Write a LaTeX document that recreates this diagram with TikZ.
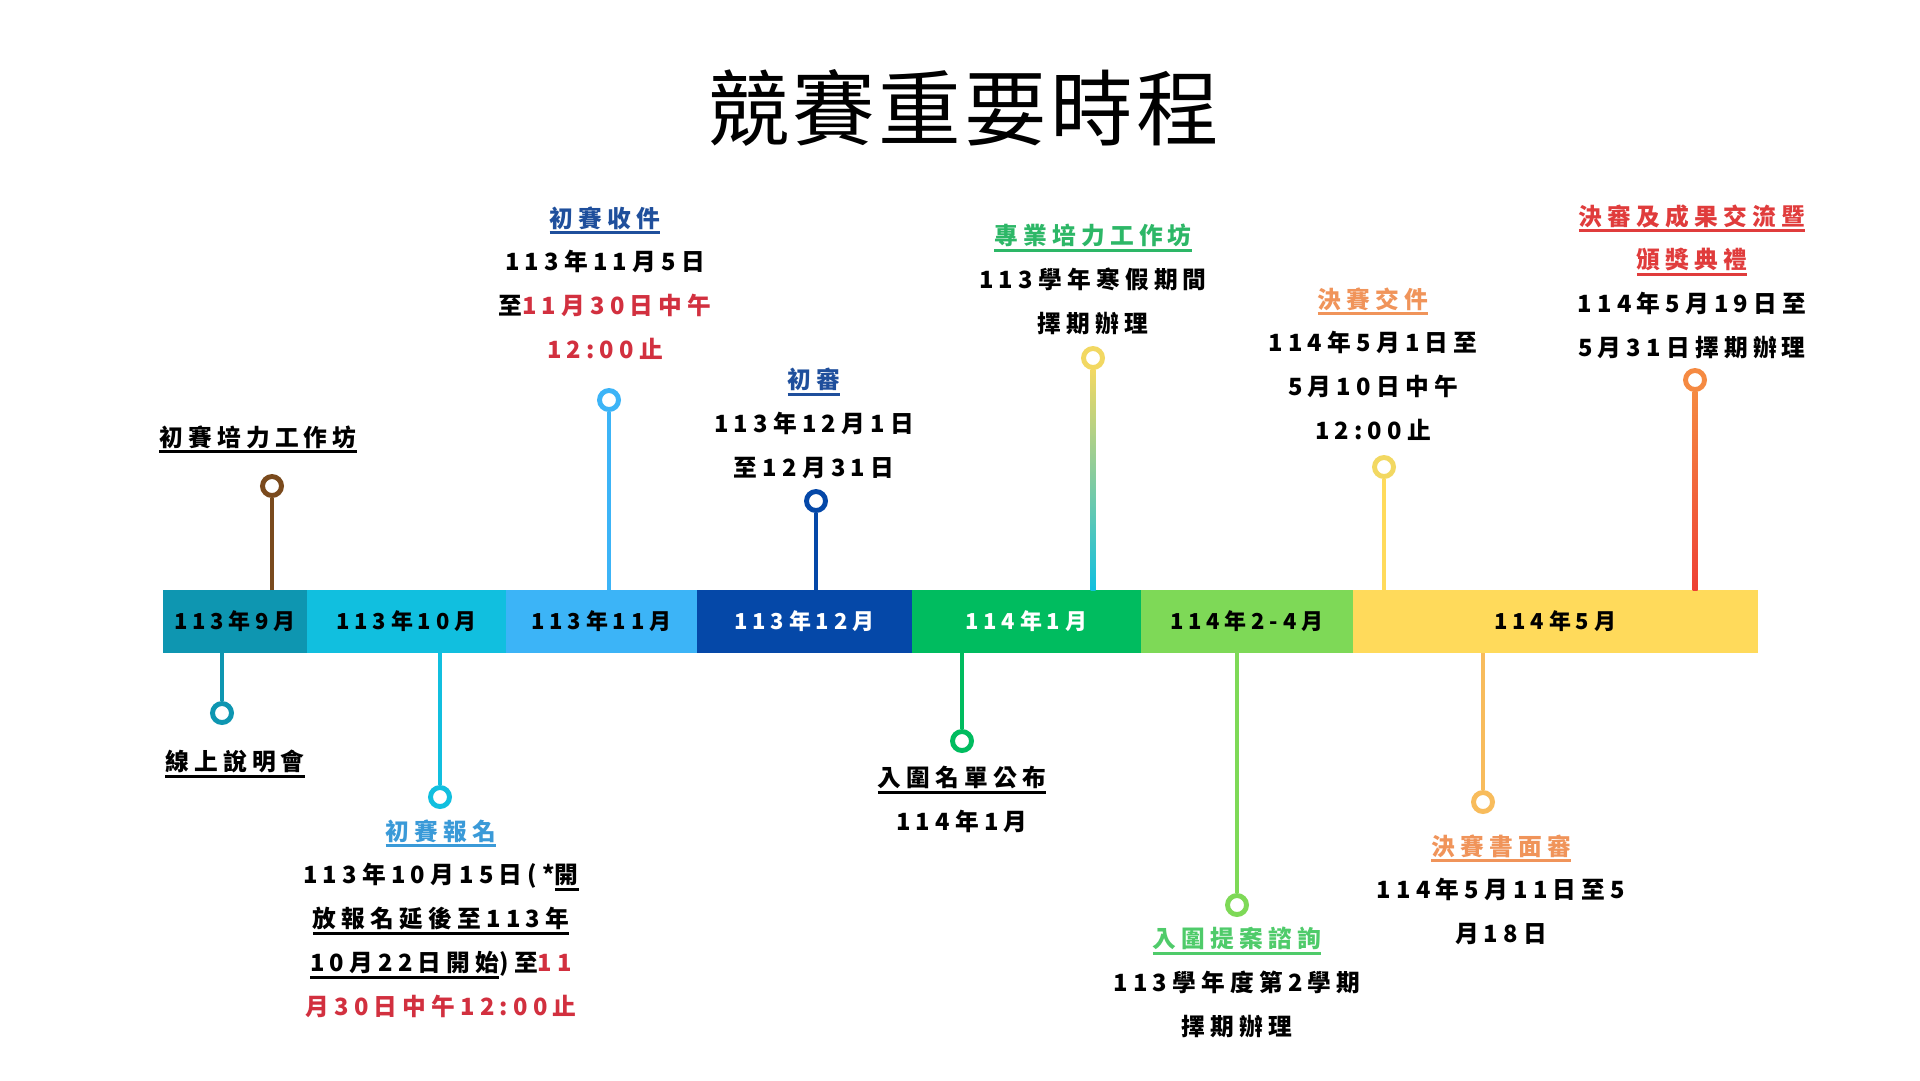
\documentclass[tikz,border=0pt]{standalone}
\usepackage{fontspec}
\usepackage{xcolor}
\usepackage{tikz}
\usetikzlibrary{positioning,calc}
\newfontfamily\cjk[LetterSpace=22]{Noto Sans CJK TC}
\newfontfamily\cjktitle[LetterSpace=4]{Noto Sans CJK TC}
\definecolor{msep}{HTML}{0E96B1}
\definecolor{moct}{HTML}{11BFDF}
\definecolor{mnov}{HTML}{3CB4F7}
\definecolor{mdec}{HTML}{0548A8}
\definecolor{mjan}{HTML}{00BC5F}
\definecolor{mfeb}{HTML}{7ED957}
\definecolor{mmay}{HTML}{FFDA5B}
\definecolor{pinbrown}{HTML}{7A4A1D}
\definecolor{pinyellow}{HTML}{F2D862}
\definecolor{pinorange}{HTML}{F8BC5C}
\definecolor{pinred}{HTML}{EE4035}
\definecolor{pincoral}{HTML}{F58A42}
\definecolor{ttlblue}{HTML}{1F4F9C}
\definecolor{ttlsky}{HTML}{3A9AD8}
\definecolor{ttlgreen}{HTML}{2DB767}
\definecolor{ttllime}{HTML}{4FCB6A}
\definecolor{ttlorange}{HTML}{F0945A}
\definecolor{ttlred}{HTML}{E03C3C}
\definecolor{datered}{HTML}{D2303F}
\newcommand\ulbar[1]{\setbox0\hbox{#1}\rlap{\rule[-4pt]{\wd0}{1.6pt}}\box0}
\newcommand\rd[1]{\textcolor{datered}{#1}}

\begin{document}
\begin{tikzpicture}[
  x=0.02cm, y=-0.02cm,
  seg/.style={
    minimum height=1.26cm, inner sep=0pt, outer sep=0pt,
    font=\cjk\bfseries\fontsize{12.5}{15}\selectfont
  },
  pin/.style={
    circle, draw=#1, fill=white, line width=2.8pt, minimum size=0.38cm, inner sep=0pt
  },
  stem/.style={line width=2.8pt, draw=#1},
  evt/.style={
    anchor=north, align=center, inner sep=0pt,
    font=\cjk\bfseries\fontsize{13.5}{25}\selectfont
  }
]
  \fill[white] (0,0) rectangle (1920,1080);
  \useasboundingbox (0,0) rectangle (1920,1080);
  \node[font=\cjktitle\fontsize{47}{56}\selectfont] (title) at (963,108) {競賽重要時程};
  % timeline bar
  \node[seg, fill=msep, anchor=west, minimum width=2.88cm] (m9) at (163,621.5) {113年9月};
  \node[seg, fill=moct, right=0pt of m9, minimum width=3.98cm] (m10) {113年10月};
  \node[seg, fill=mnov, right=0pt of m10, minimum width=3.82cm] (m11) {113年11月};
  \node[seg, fill=mdec, right=0pt of m11, minimum width=4.30cm, text=white] (m12) {113年12月};
  \node[seg, fill=mjan, right=0pt of m12, minimum width=4.58cm, text=white] (m1) {114年1月};
  \node[seg, fill=mfeb, right=0pt of m1, minimum width=4.24cm] (m24) {114年2-4月};
  \node[seg, fill=mmay, right=0pt of m24, minimum width=8.10cm] (m5) {114年5月};
  % pins
  \node[pin=pinbrown] (p1) at (272,486) {};
  \node[pin=msep] (p2) at (222,713) {};
  \node[pin=mnov] (p3) at (609,400) {};
  \node[pin=moct] (p4) at (440,797) {};
  \node[pin=mdec] (p5) at (816,501) {};
  \node[pin=mjan] (p6) at (962,741) {};
  \node[pin=pinyellow] (p7) at (1093,358) {};
  \node[pin=mfeb] (p8) at (1237,905) {};
  \node[pin=pinyellow] (p9) at (1384,467) {};
  \node[pin=pinorange] (p10) at (1483,802) {};
  \node[pin=pincoral] (p11) at (1695,380) {};
  \coordinate (s1) at (272,590);
  \coordinate (s2) at (222,653);
  \coordinate (s3) at (609,590);
  \coordinate (s4) at (440,653);
  \coordinate (s5) at (816,590);
  \coordinate (s6) at (962,653);
  \coordinate (s7) at (1093,590);
  \coordinate (s8) at (1237,653);
  \coordinate (s9) at (1384,590);
  \coordinate (s10) at (1483,653);
  \coordinate (s11) at (1695,590);
  \draw[stem=pinbrown] (s1) -- (p1);
  \draw[stem=msep] (s2) -- (p2);
  \draw[stem=mnov] (s3) -- (p3);
  \draw[stem=moct] (s4) -- (p4);
  \draw[stem=mdec] (s5) -- (p5);
  \draw[stem=mjan] (s6) -- (p6);
  \shade[bottom color=moct, top color=pinyellow] ($(s7)+(-2.5,0)$) rectangle ($(p7.south)+(2.5,0)$);
  \draw[stem=mfeb] (s8) -- (p8);
  \draw[stem=mmay] (s9) -- (p9);
  \draw[stem=pinorange] (s10) -- (p10);
  \shade[bottom color=pinred, top color=pincoral] ($(s11)+(-2.5,0)$) rectangle ($(p11.south)+(2.5,0)$);
  % labels
  \node[evt] (l1) at (258,425) {\ulbar{初賽培力工作坊}};
  \node[evt] (l2) at (235,750) {\ulbar{線上說明會}};
  \node[evt] (l3) at (605,206) {\textcolor{ttlblue}{\ulbar{初賽收件}}\\113年11月5日\\至\rd{11月30日中午}\\\rd{12:00止}};
  \node[evt] (l4) at (441,819) {\textcolor{ttlsky}{\ulbar{初賽報名}}\\113年10月15日(*\ulbar{開}\\\ulbar{放報名延後至113年}\\\ulbar{10月22日開始})至\rd{11}\\\rd{月30日中午12:00止}};
  \node[evt] (l5) at (814,368) {\textcolor{ttlblue}{\ulbar{初審}}\\113年12月1日\\至12月31日};
  \node[evt] (l6) at (962,766) {\ulbar{入圍名單公布}\\114年1月};
  \node[evt] (l7) at (1093,224) {\textcolor{ttlgreen}{\ulbar{專業培力工作坊}}\\113學年寒假期間\\擇期辦理};
  \node[evt] (l8) at (1237,927) {\textcolor{ttllime}{\ulbar{入圍提案諮詢}}\\113學年度第2學期\\擇期辦理};
  \node[evt] (l9) at (1373,287) {\textcolor{ttlorange}{\ulbar{決賽交件}}\\114年5月1日至\\5月10日中午\\12:00止};
  \node[evt] (l10) at (1501,834) {\textcolor{ttlorange}{\ulbar{決賽書面審}}\\114年5月11日至5\\月18日};
  \node[evt] (l11) at (1692,204) {\textcolor{ttlred}{\ulbar{決審及成果交流暨}}\\\textcolor{ttlred}{\ulbar{頒獎典禮}}\\114年5月19日至\\5月31日擇期辦理};
\end{tikzpicture}
\end{document}
